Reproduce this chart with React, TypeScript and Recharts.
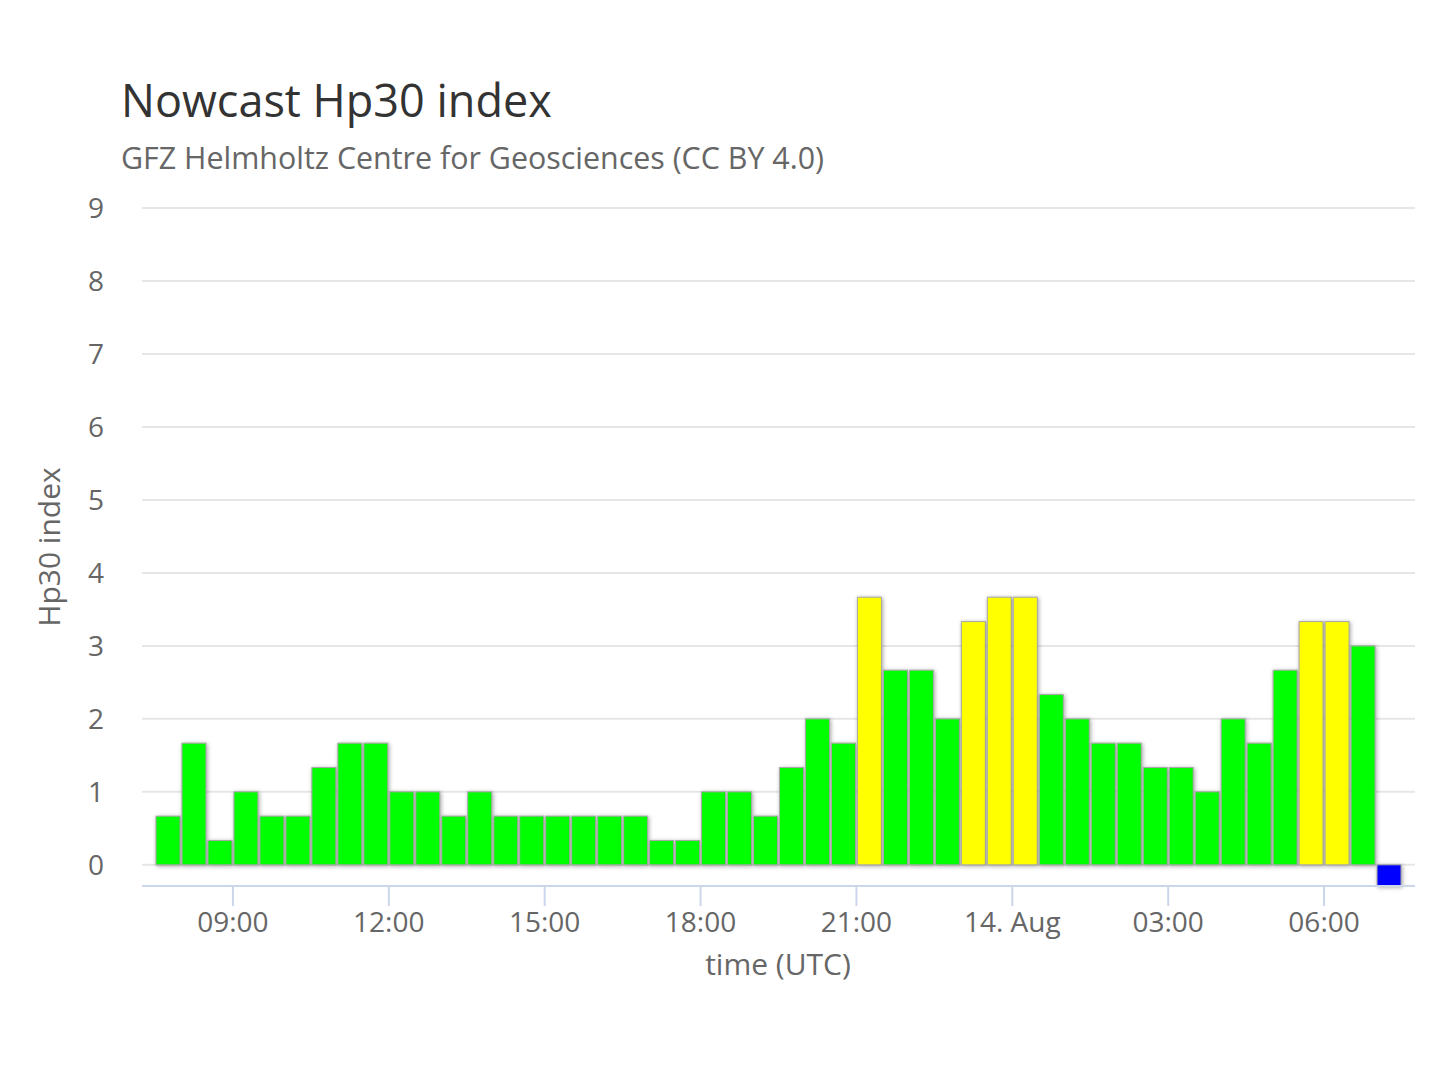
import { BarChart, Bar, XAxis, YAxis, CartesianGrid } from 'recharts'

// half-hour slots (UTC), 13 Aug 07:30 -> 14 Aug 07:00
const slotStarts = [
  '07:30', '08:00', '08:30', '09:00', '09:30', '10:00', '10:30', '11:00',
  '11:30', '12:00', '12:30', '13:00', '13:30', '14:00', '14:30', '15:00',
  '15:30', '16:00', '16:30', '17:00', '17:30', '18:00', '18:30', '19:00',
  '19:30', '20:00', '20:30', '21:00', '21:30', '22:00', '22:30', '23:00',
  '23:30', '00:00', '00:30', '01:00', '01:30', '02:00', '02:30', '03:00',
  '03:30', '04:00', '04:30', '05:00', '05:30', '06:00', '06:30', '07:00',
]

const hp30Values = [
  0.667, 1.667, 0.333, 1, 0.667, 0.667, 1.333, 1.667,
  1.667, 1, 1, 0.667, 1, 0.667, 0.667, 0.667,
  0.667, 0.667, 0.667, 0.333, 0.333, 1, 1, 0.667,
  1.333, 2, 1.667, 3.667, 2.667, 2.667, 2, 3.333,
  3.667, 3.667, 2.333, 2, 1.667, 1.667, 1.333, 1.333,
  1, 2, 1.667, 2.667, 3.333, 3.333, 3, -0.29,
]

const yTicks = [0, 1, 2, 3, 4, 5, 6, 7, 8, 9]
const xTickHours = [9, 12, 15, 18, 21, 24, 27, 30]
const xTickLabels = ['09:00', '12:00', '15:00', '18:00', '21:00', '14. Aug', '03:00', '06:00']

const FONT = '"Open Sans", "DejaVu Sans", sans-serif'

// hours since 13 Aug 00:00, bar centred in its half-hour slot
let prev = -1
let dayOffset = 0
const data = slotStarts.map((s, i) => {
  const [h, m] = s.split(':').map(Number)
  let t = h + m / 60
  if (t < prev) dayOffset = 24
  prev = t
  return { x: dayOffset + t + 0.25, hp: hp30Values[i] }
})

function barColor(v: number) {
  if (v < 0) return '#0000ff'
  if (v > 3) return '#ffff00'
  return '#00ff00'
}

function HpBar(props: any) {
  let { x, y, width, height } = props
  if (height < 0) {
    y = y + height
    height = -height
  }
  const v = props.payload?.hp ?? 0
  return (
    <rect
      x={x}
      y={y}
      width={width}
      height={height}
      fill={barColor(v)}
      stroke="#a8a8a8"
      strokeWidth={1}
      style={{ filter: 'drop-shadow(1px 1px 2px rgba(0,0,0,0.35))' }}
    />
  )
}

export default function App() {
  return (
    <div style={{ position: 'absolute', left: 0, top: 0, width: 1440, height: 1080, background: '#fff', fontFamily: FONT }}>
      <BarChart
        width={1440}
        height={1080}
        data={data}
        margin={{ top: 208, right: 25, bottom: 0, left: 0 }}
      >
        <CartesianGrid vertical={false} stroke="#e6e6e6" strokeWidth={2} />
        <XAxis
          dataKey="x"
          type="number"
          domain={[7.25, 31.75]}
          ticks={xTickHours}
          tickFormatter={(v: number) => xTickLabels[xTickHours.indexOf(v)] ?? ''}
          height={194}
          tickSize={20}
          tickMargin={6}
          axisLine={{ stroke: '#ccd6eb', strokeWidth: 2 }}
          tickLine={{ stroke: '#ccd6eb', strokeWidth: 2 }}
          tick={{ fill: '#666666', fontSize: 28, fontFamily: FONT }}
        />
        <YAxis
          type="number"
          domain={[-0.29, 9]}
          ticks={yTicks}
          width={142}
          axisLine={false}
          tickLine={false}
          tickSize={0}
          tickMargin={38}
          tick={{ fill: '#666666', fontSize: 28, fontFamily: FONT }}
        />
        <Bar dataKey="hp" barSize={24} shape={<HpBar />} isAnimationActive={false} />
      </BarChart>
      <svg
        width={1440}
        height={1080}
        style={{ position: 'absolute', left: 0, top: 0, pointerEvents: 'none' }}
      >
        <text x={121} y={117} fontSize={45} fill="#333333" fontFamily={FONT}>
          Nowcast Hp30 index
        </text>
        <text x={121} y={169} fontSize={30.4} fill="#666666" fontFamily={FONT}>
          GFZ Helmholtz Centre for Geosciences (CC BY 4.0)
        </text>
        <text
          x={0}
          y={0}
          transform="translate(60,547) rotate(-90)"
          textAnchor="middle"
          fontSize={30}
          fill="#666666"
          fontFamily={FONT}
        >
          Hp30 index
        </text>
        <text x={778} y={975} textAnchor="middle" fontSize={30} fill="#666666" fontFamily={FONT}>
          time (UTC)
        </text>
      </svg>
    </div>
  )
}
